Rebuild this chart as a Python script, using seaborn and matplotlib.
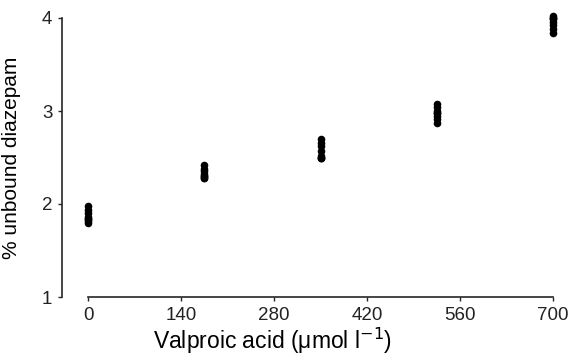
import matplotlib
matplotlib.use("Agg")
import matplotlib.pyplot as plt
import seaborn as sns
import pandas as pd

# Data
conc_0 = [1.98, 1.94, 1.90, 1.86, 1.84, 1.84, 1.82, 1.80]
conc_175 = [2.42, 2.38, 2.35, 2.32, 2.30, 2.30, 2.28, 2.28]
conc_350 = [2.70, 2.66, 2.62, 2.57, 2.52, 2.50, 2.50, 2.49]
conc_525 = [3.07, 3.04, 3.00, 2.98, 2.98, 2.95, 2.91, 2.87]
conc_700 = [4.02, 4.00, 4.00, 3.99, 3.96, 3.92, 3.88, 3.84]
valproic = [0, 175, 350, 525, 700]
x_ticks = [0, 140, 280, 420, 560, 700]
y_ticks = [1, 2, 3, 4]

groups = [conc_0, conc_175, conc_350, conc_525, conc_700]
rows = []
for v, vals in zip(valproic, groups):
    for u in vals:
        rows.append({"valproic": v, "unbound": u})
df = pd.DataFrame(rows)

sns.set_style("ticks")
plt.rcParams["font.family"] = ["Liberation Sans", "DejaVu Sans"]

fig = plt.figure(figsize=(5.71, 3.57), dpi=100)
W, H = 571, 357
ax = fig.add_axes([88 / W, (H - 297) / H, (553 - 88) / W, (297 - 18) / H])

sns.scatterplot(data=df, x="valproic", y="unbound", color="black",
                s=30, linewidth=0, ax=ax, clip_on=False, zorder=3)

ax.set_xlim(0, 700)
ax.set_ylim(1, 4)
ax.set_xticks(x_ticks)
ax.set_yticks(y_ticks)
ax.set_xticklabels([str(t) for t in x_ticks])
ax.set_yticklabels([str(t) for t in y_ticks])

for s in ["top", "right"]:
    ax.spines[s].set_visible(False)
ax.spines["left"].set_position(("outward", 26 * 72 / 100))
ax.spines["left"].set_linewidth(1.2)
ax.spines["bottom"].set_linewidth(1.2)
ax.tick_params(axis="both", direction="out", length=3, width=1, pad=4,
               labelsize=13.5, labelcolor="#222222")

ax.set_xlabel("Valproic acid (μmol l$^{-1}$)", fontsize=16.5, color="black")
ax.xaxis.set_label_coords(0.396, -0.105)
ax.set_ylabel("% unbound diazepam", fontsize=15, color="black")
ax.yaxis.set_label_coords(-0.145, 0.5)

fig.savefig("out.png", dpi=100)
